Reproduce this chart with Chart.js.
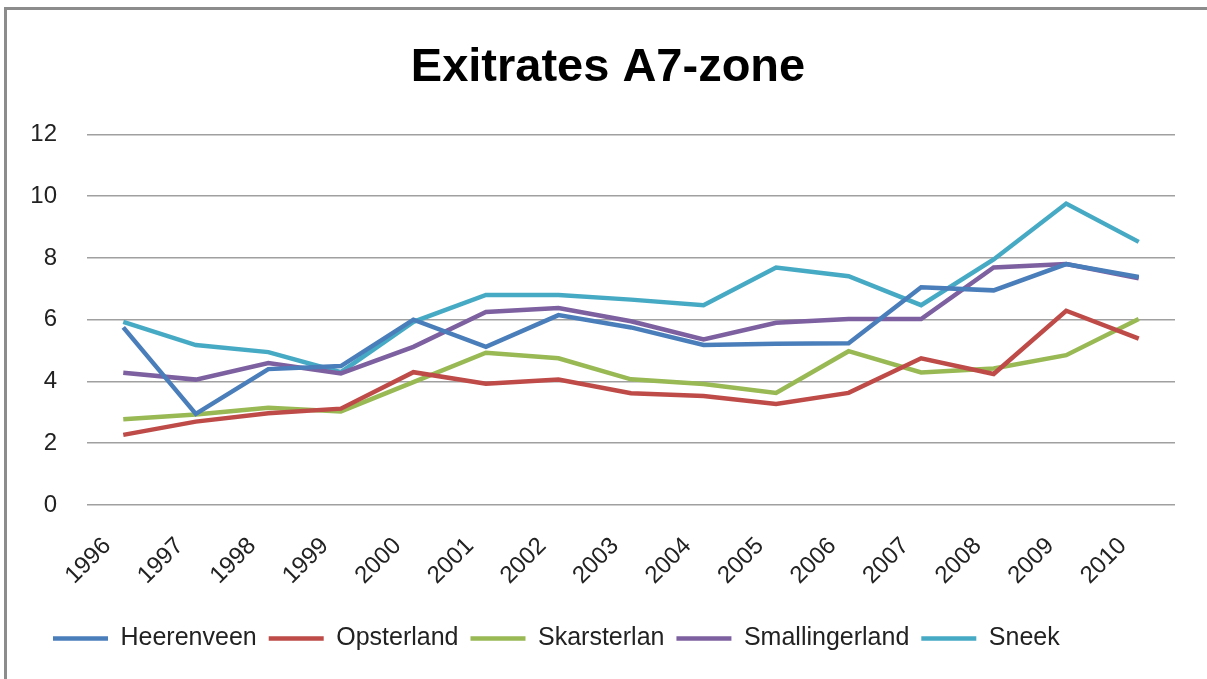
<!DOCTYPE html>
<html>
<head>
<meta charset="utf-8">
<script src="https://cdn.jsdelivr.net/npm/chart.js@4.4.1/dist/chart.umd.min.js"></script>
<style>
    html, body { margin: 0; padding: 0; background: #fff; }
    #wrap { position: relative; width: 1207px; height: 679px; }
    #frame { position: absolute; left: 4px; top: 7px; width: 1300px; height: 800px;
             border-left: 3px solid #8c8c8c; border-top: 3px solid #8c8c8c; pointer-events: none; }
</style>
</head>
<body>
<div id="wrap">
    <canvas id="myChart" width="1207" height="679"></canvas>
    <div id="frame"></div>
</div>
<script>
const years = ['1996', '1997', '1998', '1999', '2000', '2001', '2002', '2003', '2004', '2005', '2006', '2007', '2008', '2009', '2010'];

const heerenveen     = [5.75, 2.95, 4.4, 4.5, 6.0, 5.12, 6.15, 5.75, 5.18, 5.22, 5.24, 7.05, 6.95, 7.8, 7.38];
const opsterland     = [2.27, 2.7, 2.97, 3.12, 4.3, 3.93, 4.06, 3.62, 3.53, 3.27, 3.63, 4.75, 4.24, 6.29, 5.39];
const skarsterlan    = [2.78, 2.93, 3.15, 3.03, 3.98, 4.93, 4.75, 4.07, 3.92, 3.63, 4.98, 4.29, 4.42, 4.85, 6.02];
const smallingerland = [4.28, 4.06, 4.6, 4.26, 5.12, 6.25, 6.38, 5.95, 5.36, 5.9, 6.02, 6.02, 7.69, 7.8, 7.34];
const sneek          = [5.93, 5.18, 4.95, 4.3, 5.93, 6.8, 6.8, 6.65, 6.47, 7.69, 7.41, 6.47, 7.95, 9.76, 8.52];

const yTicks = [0, 2, 4, 6, 8, 10, 12];

const fontFamily = '"Liberation Sans", Arial, sans-serif';

function line(label, data, color) {
    return {
        label: label,
        data: data,
        borderColor: color,
        backgroundColor: color,
        borderWidth: 4.5,
        pointRadius: 0,
        pointHoverRadius: 0,
        tension: 0,
        fill: false
    };
}

// let the y tick labels use the space left of the axis box (otherwise they get clipped)
const widenYLabels = {
    id: 'widenYLabels',
    afterLayout: function(chart) {
        chart.scales.y.left = 0;
    }
};

const ctx = document.getElementById('myChart');
new Chart(ctx, {
    type: 'line',
    data: {
        labels: years,
        datasets: [
            line('Heerenveen', heerenveen, '#4a7ebb'),
            line('Opsterland', opsterland, '#be4b48'),
            line('Skarsterlan', skarsterlan, '#98b954'),
            line('Smallingerland', smallingerland, '#7d60a0'),
            line('Sneek', sneek, '#46aac5')
        ]
    },
    plugins: [widenYLabels],
    options: {
        responsive: false,
        animation: false,
        layout: {
            padding: { left: 41, right: 32, top: 0, bottom: 18 }
        },
        plugins: {
            title: {
                display: true,
                text: 'Exitrates A7-zone',
                color: '#000',
                font: { family: fontFamily, size: 47, weight: 'bold' },
                padding: { top: 40, bottom: 38 }
            },
            legend: {
                position: 'bottom',
                align: 'start',
                labels: {
                    usePointStyle: true,
                    pointStyle: 'line',
                    pointStyleWidth: 55,
                    boxHeight: 25,
                    color: '#222',
                    padding: 12,
                    font: { family: fontFamily, size: 25 }
                }
            },
            tooltip: { enabled: false }
        },
        scales: {
            x: {
                offset: true,
                grid: { display: false },
                border: { display: false },
                afterFit: function(scale) {
                    scale.paddingLeft = 0;
                    scale.paddingRight = 0;
                    scale.height = 109;
                },
                ticks: {
                    color: '#222',
                    maxRotation: 45,
                    minRotation: 45,
                    padding: 19,
                    labelOffset: -16,
                    font: { family: fontFamily, size: 24 }
                }
            },
            y: {
                min: 0,
                max: 12,
                afterBuildTicks: function(axis) {
                    axis.ticks = yTicks.map(function(v) { return { value: v }; });
                },
                afterFit: function(scale) {
                    scale.width = 46;
                },
                grid: { color: '#a0a0a0', lineWidth: 1.5, drawTicks: false },
                border: { display: false },
                ticks: {
                    color: '#222',
                    padding: 30,
                    font: { family: fontFamily, size: 24 }
                }
            }
        }
    }
});
</script>
</body>
</html>
